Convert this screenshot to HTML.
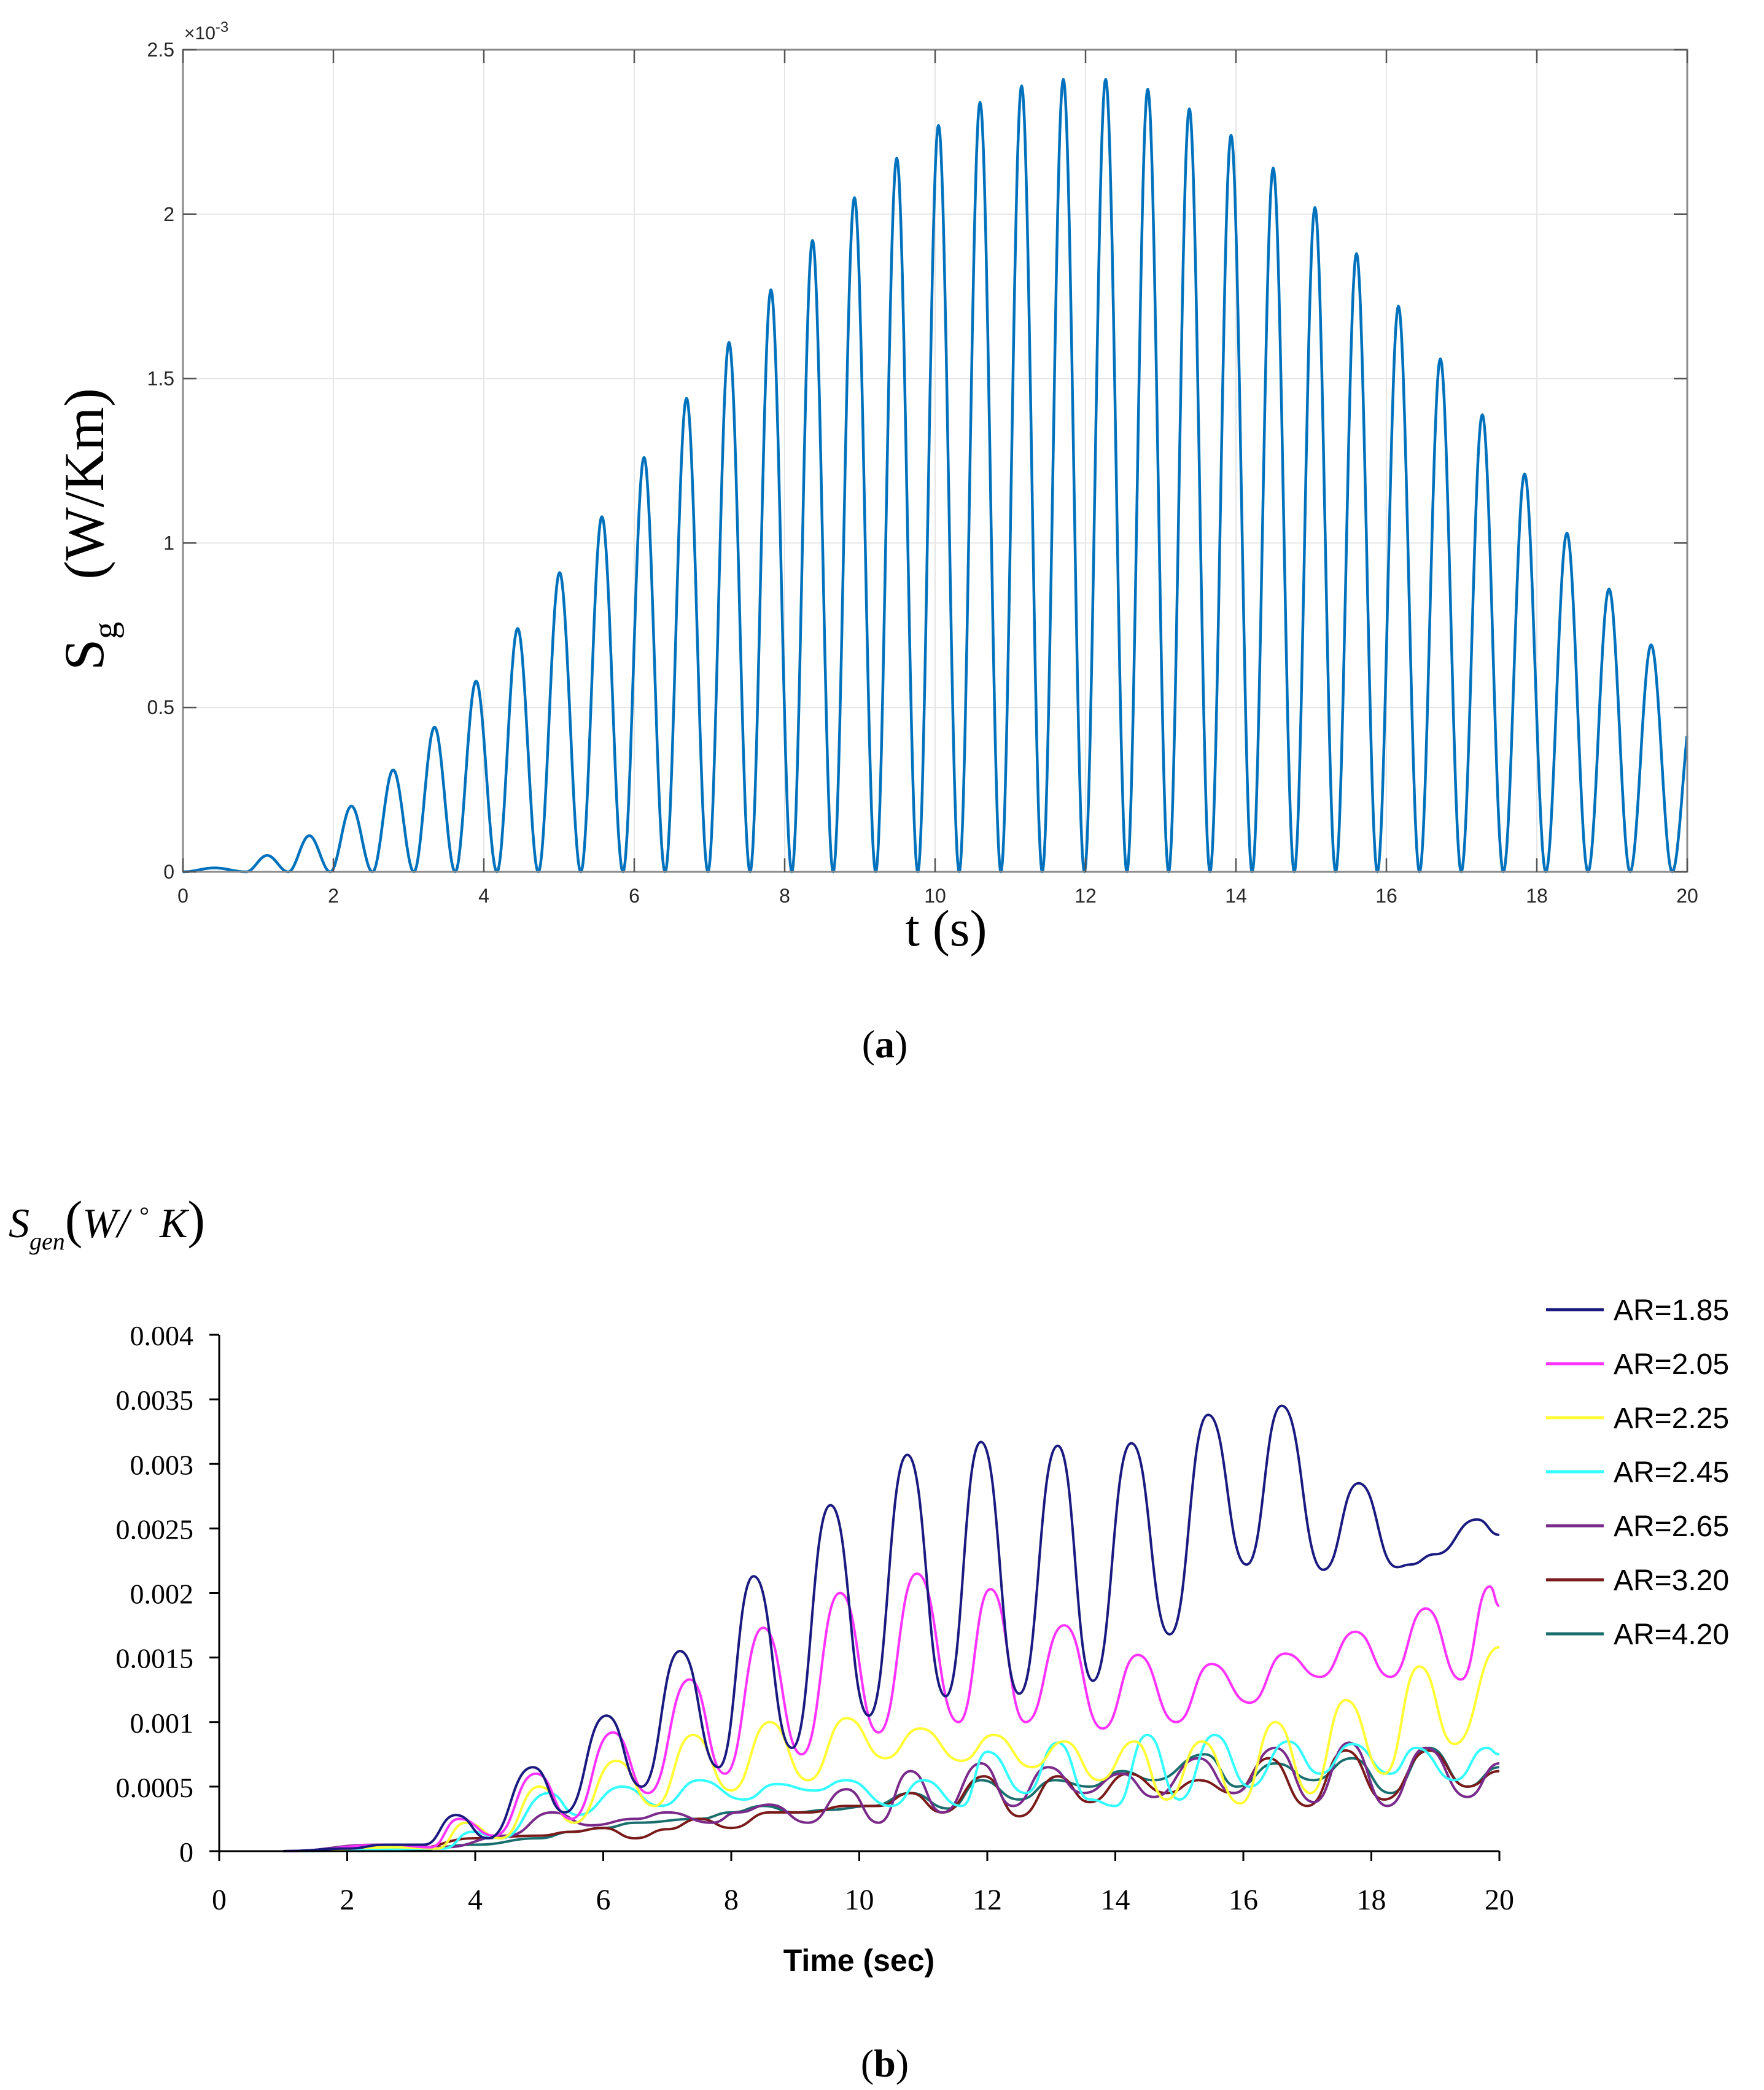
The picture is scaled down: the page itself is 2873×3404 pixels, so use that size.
<!DOCTYPE html>
<html><head><meta charset="utf-8"><style>
html,body{margin:0;padding:0;background:#fff;}
svg{display:block;}
</style></head><body>
<svg id="fig" width="2873" height="3404" viewBox="0 0 2873 3404" xmlns="http://www.w3.org/2000/svg">
<rect x="0" y="0" width="2873" height="3404" fill="#fff"/>
<g id="chartA"></g>
<g id="chartB"></g>
<text x="1441" y="1722" font-family="Liberation Serif, serif" font-size="64" text-anchor="middle">(<tspan font-weight="bold">a</tspan>)</text>
<text x="1441" y="3382" font-family="Liberation Serif, serif" font-size="64" text-anchor="middle">(<tspan font-weight="bold">b</tspan>)</text>
</svg>
<script>
// ---------- Chart A data ----------
const aPeakTimes = [0.56,1.12,1.68,2.24,2.8,3.34,3.9,4.45,5.0,5.58,6.12,6.7,7.26,7.82,8.37,8.92,9.5,10.04,10.6,11.15,11.7,12.27,12.83,13.38,13.93,14.5,15.05,15.6,16.16,16.72,17.27,17.84,18.4,18.96,19.52,20.08];
const aPeakValues = [0.012,0.05,0.11,0.2,0.31,0.44,0.58,0.74,0.91,1.08,1.26,1.44,1.61,1.77,1.92,2.05,2.17,2.27,2.34,2.39,2.41,2.41,2.38,2.32,2.24,2.14,2.02,1.88,1.72,1.56,1.39,1.21,1.03,0.86,0.69,0.52];
const aXTicks = [0,2,4,6,8,10,12,14,16,18,20];
const aYTicks = [0,0.5,1,1.5,2,2.5];
const aYTickLabels = ['0','0.5','1','1.5','2','2.5'];

// ---------- Chart B data ----------
const bXTicks = [0,2,4,6,8,10,12,14,16,18,20];
const bYTicks = [0,0.0005,0.001,0.0015,0.002,0.0025,0.003,0.0035,0.004];
const bYTickLabels = ['0','0.0005','0.001','0.0015','0.002','0.0025','0.003','0.0035','0.004'];
const bLabels = ['AR=1.85','AR=2.05','AR=2.25','AR=2.45','AR=2.65','AR=3.20','AR=4.20'];
const s185 = [[1,0],[2,0.02],[2.6,0.05],[3.2,0.05],[3.7,0.28],[4.2,0.1],[4.9,0.65],[5.4,0.3],[6.05,1.05],[6.6,0.5],[7.2,1.55],[7.8,0.65],[8.35,2.13],[8.95,0.8],[9.55,2.68],[10.15,1.05],[10.75,3.07],[11.35,1.2],[11.9,3.17],[12.5,1.22],[13.1,3.14],[13.65,1.32],[14.25,3.16],[14.85,1.68],[15.45,3.38],[16.05,2.22],[16.6,3.45],[17.25,2.18],[17.8,2.85],[18.4,2.2],[18.6,2.22],[19,2.3],[19.65,2.57],[20,2.45]];
const s205 = [[1,0],[2.7,0.05],[3.3,0.03],[3.75,0.25],[4.3,0.12],[4.95,0.6],[5.5,0.25],[6.15,0.92],[6.7,0.45],[7.35,1.33],[7.9,0.6],[8.5,1.73],[9.1,0.75],[9.7,2.0],[10.3,0.92],[10.9,2.15],[11.55,1.0],[12.05,2.03],[12.6,1.0],[13.2,1.75],[13.8,0.95],[14.35,1.52],[14.95,1.0],[15.5,1.45],[16.1,1.15],[16.65,1.53],[17.2,1.35],[17.75,1.7],[18.3,1.35],[18.85,1.88],[19.4,1.33],[19.85,2.05],[20,1.9]];
const s225 = [[1,0],[2.8,0.03],[3.4,0.02],[3.85,0.22],[4.4,0.1],[5.0,0.5],[5.55,0.22],[6.2,0.7],[6.8,0.35],[7.4,0.9],[8.0,0.47],[8.6,1.0],[9.2,0.55],[9.8,1.03],[10.4,0.72],[10.95,0.95],[11.6,0.7],[12.1,0.9],[12.7,0.65],[13.2,0.85],[13.75,0.55],[14.3,0.85],[14.8,0.4],[15.35,0.85],[15.95,0.37],[16.5,1.0],[17.05,0.45],[17.6,1.17],[18.2,0.6],[18.75,1.43],[19.3,0.83],[20,1.58]];
const s245 = [[1,0],[3.5,0.02],[3.95,0.15],[4.4,0.1],[5.15,0.45],[5.6,0.28],[6.3,0.5],[6.9,0.35],[7.5,0.55],[8.2,0.4],[8.7,0.52],[9.3,0.47],[9.8,0.55],[10.5,0.35],[11.0,0.55],[11.6,0.35],[12.0,0.77],[12.6,0.45],[13.1,0.84],[13.6,0.4],[14.0,0.35],[14.5,0.9],[15.0,0.4],[15.55,0.9],[16.1,0.5],[16.7,0.85],[17.2,0.6],[17.7,0.83],[18.3,0.6],[18.7,0.8],[19.3,0.55],[19.8,0.8],[20,0.75]];
const s265 = [[1,0],[2.5,0.05],[3.5,0.03],[4.5,0.12],[5.2,0.3],[5.8,0.2],[6.5,0.25],[7.0,0.3],[7.7,0.22],[8.1,0.3],[8.6,0.36],[9.2,0.22],[9.8,0.48],[10.3,0.22],[10.8,0.62],[11.3,0.3],[11.9,0.68],[12.4,0.35],[12.95,0.65],[13.5,0.45],[14.1,0.6],[14.6,0.42],[15.3,0.72],[15.85,0.45],[16.5,0.8],[17.1,0.38],[17.65,0.84],[18.25,0.35],[18.85,0.8],[19.5,0.42],[20,0.68]];
const s320 = [[1,0],[3,0.02],[4,0.1],[5,0.12],[5.5,0.15],[6,0.18],[6.5,0.1],[7.0,0.17],[7.5,0.25],[8.0,0.18],[8.6,0.3],[9.2,0.3],[9.8,0.35],[10.3,0.35],[10.8,0.45],[11.3,0.3],[11.95,0.58],[12.5,0.27],[13.1,0.58],[13.6,0.38],[14.2,0.6],[14.8,0.45],[15.3,0.55],[15.85,0.45],[16.4,0.72],[17.0,0.35],[17.6,0.78],[18.2,0.4],[18.9,0.78],[19.5,0.5],[20,0.62]];
const s420 = [[1,0],[3,0.01],[4,0.05],[5,0.1],[5.5,0.15],[6,0.18],[6.5,0.22],[7.5,0.25],[8.0,0.3],[8.5,0.35],[9,0.3],[9.5,0.32],[10.2,0.35],[10.8,0.45],[11.4,0.33],[11.9,0.55],[12.5,0.4],[13.05,0.55],[13.6,0.5],[14.1,0.62],[14.6,0.55],[15.4,0.75],[15.9,0.5],[16.5,0.68],[17.1,0.55],[17.7,0.72],[18.3,0.45],[18.9,0.8],[19.5,0.5],[20,0.65]];

const NS='http://www.w3.org/2000/svg';
function mk(parent,tag,attrs,text){const e=document.createElementNS(NS,tag);for(const k in attrs)e.setAttribute(k,attrs[k]);if(text!==undefined)e.textContent=text;parent.appendChild(e);return e;}

// ---------- Chart A ----------
(function(){
const g=document.getElementById('chartA');
const L=298,R=2748,T=81,B=1420;
const xA=t=>L+(t/20)*(R-L);
const yA=v=>B-(v/2.5)*(B-T);
aXTicks.forEach(t=>{if(t>0&&t<20){const l=mk(g,'line',{x1:xA(t),x2:xA(t),y1:T,y2:B,stroke:'#e6e6e6','stroke-width':2});

}});
aYTicks.forEach(v=>{if(v>0&&v<2.5){const l=mk(g,'line',{x1:L,x2:R,y1:yA(v),y2:yA(v),stroke:'#e6e6e6','stroke-width':2});

}});
let d='';
const n=aPeakTimes.length;
for(let i=0;i<n;i++){
  const pk=aPeakTimes[i], amp=aPeakValues[i];
  const z0 = i===0?0:(aPeakTimes[i-1]+pk)/2;
  const z1 = i===n-1? pk+(pk-z0) : (pk+aPeakTimes[i+1])/2;
  for(let k=0;k<=60;k++){
    const t=z0+(z1-z0)*k/60; if(t>20)break;
    const v=amp*Math.pow(Math.sin(Math.PI*(t-z0)/(z1-z0)),2);
    d+=(d===''?'M':'L')+xA(t).toFixed(1)+','+yA(v).toFixed(1);
  }
}
const p=mk(g,'path',{d:d,fill:'none',stroke:'#0072BD','stroke-width':4.5,'stroke-linejoin':'round'});


const fr=mk(g,'rect',{x:L,y:T,width:R-L,height:B-T,fill:'none',stroke:'#8a8a8a','stroke-width':3});


aXTicks.forEach((t,i)=>{
  mk(g,'line',{x1:xA(t),x2:xA(t),y1:B,y2:B-22,stroke:'#555','stroke-width':2.5});
  mk(g,'line',{x1:xA(t),x2:xA(t),y1:T,y2:T+22,stroke:'#555','stroke-width':2.5});
  const tx=mk(g,'text',{x:xA(t),y:B+50,'font-family':'Liberation Sans, sans-serif','font-size':32,fill:'#262626','text-anchor':'middle'},String(t));
  
  
});
aYTicks.forEach((v,i)=>{
  mk(g,'line',{x1:L,x2:L+22,y1:yA(v),y2:yA(v),stroke:'#555','stroke-width':2.5});
  mk(g,'line',{x1:R,x2:R-22,y1:yA(v),y2:yA(v),stroke:'#555','stroke-width':2.5});
  const tx=mk(g,'text',{x:L-14,y:yA(v)+11,'font-family':'Liberation Sans, sans-serif','font-size':32,fill:'#262626','text-anchor':'end'},aYTickLabels[i]);
  
  
});
const ex=mk(g,'text',{x:300,y:64,'font-family':'Liberation Sans, sans-serif','font-size':30,fill:'#262626'});


ex.innerHTML='×10<tspan dy="-12" font-size="24">-3</tspan>';
const xt=mk(g,'text',{x:1541,y:1540,'font-family':'Liberation Serif, serif','font-size':84,fill:'#000','text-anchor':'middle'},'t (s)');


const yt=mk(g,'text',{x:0,y:0,transform:'translate(168,862) rotate(-90)','font-family':'Liberation Serif, serif','font-size':92,fill:'#000','text-anchor':'middle'});


yt.innerHTML='S<tspan font-size="56" dy="22">g</tspan><tspan dy="-22" xml:space="preserve">   (W/Km)</tspan>';
})();

// ---------- Chart B ----------
(function(){
const g=document.getElementById('chartB');
const L=357,R=2442,T=2174,B=3015;
const xB=t=>L+(t/20)*(R-L);
const yB=v=>B-(v/0.004)*(B-T);
const series=[s185,s205,s225,s245,s265,s320,s420];
const colors=['#1a1a80','#ff33ff','#ffff33','#33ffff','#7a2a8a','#7a1a1a','#1a6e6e'];
const drawOrder=[6,5,4,3,2,1,0];
drawOrder.forEach(si=>{
  const pts=series[si];
  let d='';
  pts.forEach((pt,i)=>{
    const x=xB(pt[0]), y=yB(pt[1]/1000);
    if(i===0){d+='M'+x.toFixed(1)+','+y.toFixed(1);return;}
    const px=xB(pts[i-1][0]), py=yB(pts[i-1][1]/1000);
    const dx=(x-px)/2;
    d+='C'+(px+dx).toFixed(1)+','+py.toFixed(1)+' '+(x-dx).toFixed(1)+','+y.toFixed(1)+' '+x.toFixed(1)+','+y.toFixed(1);
  });
  const p=mk(g,'path',{d:d,fill:'none',stroke:colors[si],'stroke-width':4,'stroke-linejoin':'round'});
  
  
});
const ax=mk(g,'path',{d:`M${L},${T}L${L},${B}L${R},${B}`,fill:'none',stroke:'#000','stroke-width':3});


bXTicks.forEach(t=>{
  mk(g,'line',{x1:xB(t),x2:xB(t),y1:B,y2:B+16,stroke:'#000','stroke-width':3});
  const tx=mk(g,'text',{x:xB(t),y:B+95,'font-family':'Liberation Serif, serif','font-size':48,fill:'#000','text-anchor':'middle'},String(t));
  
  
});
bYTicks.forEach((v,i)=>{
  mk(g,'line',{x1:L-16,x2:L,y1:yB(v),y2:yB(v),stroke:'#000','stroke-width':3});
  const tx=mk(g,'text',{x:315,y:yB(v)+17,'font-family':'Liberation Serif, serif','font-size':46,fill:'#000','text-anchor':'end'},bYTickLabels[i]);
  
  
});
const xt=mk(g,'text',{x:1399,y:3210,'font-family':'Liberation Sans, sans-serif','font-size':50,'font-weight':'bold',fill:'#000','text-anchor':'middle'},'Time (sec)');


const yt=mk(g,'text',{x:14,y:2015,'font-family':'Liberation Serif, serif','font-size':68,'font-style':'italic',fill:'#000'});


yt.innerHTML='S<tspan font-size="40" dy="20">gen</tspan><tspan dy="-20" font-style="normal" font-size="86">(</tspan>W/ <tspan font-style="normal" font-size="40" dy="-22">°</tspan><tspan dy="22"> K</tspan><tspan font-style="normal" font-size="86">)</tspan>';
const rows=[2133,2221,2309,2397,2485,2573,2661];
bLabels.forEach((lab,i)=>{
  const lg=mk(g,'g',{});
  
  
  mk(lg,'line',{x1:2518,x2:2612,y1:rows[i],y2:rows[i],stroke:colors[i],'stroke-width':5});
  mk(lg,'text',{x:2628,y:rows[i]+17,'font-family':'Liberation Sans, sans-serif','font-size':48,fill:'#000'},lab);
});
})();
</script>
</body></html>
